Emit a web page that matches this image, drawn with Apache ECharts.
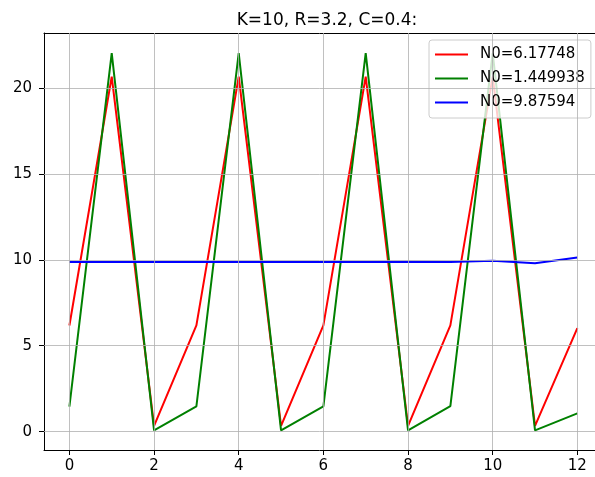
<!DOCTYPE html>
<html>
<head>
<meta charset="utf-8">
<script src="https://cdn.jsdelivr.net/npm/echarts@6/dist/echarts.min.js"></script>
<style>
    html, body { margin: 0; padding: 0; background: #fff; }
    #chart { width: 595px; height: 477px; }
</style>
</head>
<body>
<div id="chart"></div>
<script>

const steps = [0, 1, 2, 3, 4, 5, 6, 7, 8, 9, 10, 11, 12];

const redValues = [6.177, 20.66, 0.33, 6.18, 20.66, 0.33, 6.18, 20.66, 0.33, 6.18, 20.66, 0.33, 6.02];
const greenValues = [1.45, 22.03, 0.07, 1.47, 22.03, 0.07, 1.47, 22.03, 0.07, 1.48, 22.03, 0.07, 1.06];
const blueValues = [9.876, 9.876, 9.876, 9.876, 9.876, 9.876, 9.876, 9.876, 9.88, 9.87, 9.95, 9.80, 10.14];

const seriesNames = ['N0=6.17748', 'N0=1.449938', 'N0=9.87594'];
const seriesColors = ['#ff0000', '#008000', '#0000ff'];

const xTicks = [0, 2, 4, 6, 8, 10, 12];
const yTicks = [0, 5, 10, 15, 20];

const chart = echarts.init(document.getElementById('chart'));

const toPairs = values => steps.map((s, i) => [s, values[i]]);

const font = 'DejaVu Sans';

const option = {
    animation: false,
    title: {
        text: 'K=10, R=3.2, C=0.4:',
        left: 322,
        top: 7,
        textAlign: 'center',
        textStyle: {
            fontFamily: font,
            fontSize: 17,
            fontWeight: 'normal',
            color: '#000'
        }
    },
    grid: {
        left: 44,
        right: 0,
        top: 33,
        bottom: 27
    },
    legend: {
        left: 429,
        top: 40,
        orient: 'vertical',
        itemWidth: 33,
        itemHeight: 2,
        itemGap: 7,
        padding: [6, 6, 7, 6],
        backgroundColor: 'rgba(255,255,255,0.8)',
        borderColor: '#cccccc',
        borderWidth: 1,
        borderRadius: 3,
        icon: 'rect',
        textStyle: {
            fontFamily: font,
            fontSize: 15,
            lineHeight: 17,
            padding: [0, 0, 0, 7],
            color: '#000'
        },
        data: seriesNames
    },
    xAxis: [
        {
            type: 'value',
            min: -0.6,
            max: 12.417,
            axisLine: { show: true, onZero: false, lineStyle: { color: '#000' } },
            axisTick: {
                show: true,
                length: 5,
                lineStyle: { color: '#000' },
                customValues: xTicks
            },
            axisLabel: {
                fontFamily: font,
                fontSize: 15,
                color: '#000',
                margin: 9,
                customValues: xTicks
            },
            splitLine: { show: false }
        },
        {
            type: 'value',
            position: 'top',
            min: -0.6,
            max: 12.417,
            axisLine: { show: true, onZero: false, lineStyle: { color: '#000' } },
            axisTick: { show: false },
            axisLabel: { show: false },
            splitLine: { show: false }
        }
    ],
    yAxis: {
        type: 'value',
        min: -1.07,
        max: 23.2,
        axisLine: { show: true, onZero: false, lineStyle: { color: '#000' } },
        axisTick: {
            show: true,
            length: 5,
            lineStyle: { color: '#000' },
            customValues: yTicks
        },
        axisLabel: {
            fontFamily: font,
            fontSize: 15,
            color: '#000',
            margin: 12,
            customValues: yTicks
        },
        splitLine: { show: false }
    },
    series: [
        {
            name: 'grid',
            type: 'line',
            data: [],
            silent: true,
            markLine: {
                symbol: 'none',
                silent: true,
                label: { show: false },
                lineStyle: { color: '#b0b0b0', width: 1, type: 'solid', opacity: 0.8 },
                data: xTicks.map(v => ({ xAxis: v })).concat(yTicks.map(v => ({ yAxis: v })))
            }
        },
        ...[redValues, greenValues, blueValues].map((values, i) => ({
            name: seriesNames[i],
            type: 'line',
            data: toPairs(values),
            showSymbol: false,
            symbol: 'none',
            itemStyle: { color: seriesColors[i] },
            lineStyle: { color: seriesColors[i], width: 2 }
        }))
    ]
};

chart.setOption(option);

</script>
</body>
</html>
